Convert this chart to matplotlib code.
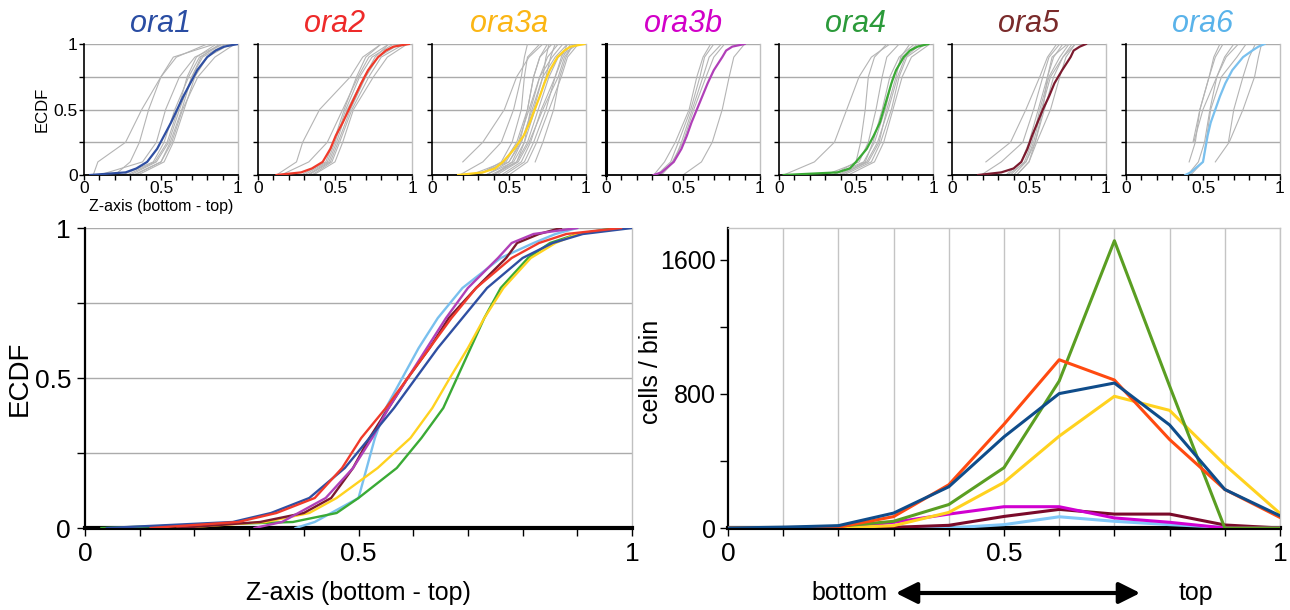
import numpy as np
import matplotlib
matplotlib.use("Agg")
import matplotlib.pyplot as plt
from matplotlib.ticker import FixedLocator

plt.rcParams['font.family'] = ['Liberation Sans', 'DejaVu Sans']

# ---------------- data ----------------
NAMES = ["ora1", "ora2", "ora3a", "ora3b", "ora4", "ora5", "ora6"]
TITLE_COLORS = ["#2a4da3", "#ee2a2a", "#fbb615", "#d200c8", "#2b9a3a", "#7a2b2b", "#5ab3ea"]
LINE_COLORS = ["#2f4fa2", "#f03a2a", "#ffd21f", "#b040b8", "#3aaa35", "#7b1a2e", "#79c0ee"]
HIST_COLORS = ["#0f4c8a", "#ff4a10", "#ffd21f", "#d000d0", "#5a9e22", "#7a0a2a", "#80c8f8"]

# ECDF of pooled cells: x position reached at each cumulative level
ECDF_LEVELS = [0, 0.02, 0.05, 0.1, 0.2, 0.3, 0.4, 0.5, 0.6, 0.7, 0.8, 0.9, 0.95, 0.98, 1.0]
ora1_ecdf = [0.04, 0.27, 0.34, 0.41, 0.475, 0.52, 0.565, 0.605, 0.645, 0.69, 0.735, 0.80, 0.855, 0.91, 1.0]
ora2_ecdf = [0.12, 0.28, 0.35, 0.42, 0.47, 0.505, 0.55, 0.59, 0.63, 0.67, 0.715, 0.78, 0.83, 0.88, 0.98]
ora3a_ecdf = [0.17, 0.33, 0.41, 0.46, 0.535, 0.595, 0.635, 0.667, 0.70, 0.73, 0.765, 0.815, 0.86, 0.90, 0.99]
ora3b_ecdf = [0.31, 0.36, 0.39, 0.44, 0.49, 0.525, 0.555, 0.59, 0.625, 0.66, 0.70, 0.755, 0.78, 0.82, 0.90]
ora4_ecdf = [0.03, 0.38, 0.46, 0.50, 0.57, 0.615, 0.655, 0.68, 0.705, 0.73, 0.76, 0.81, 0.85, 0.90, 0.97]
ora5_ecdf = [0.17, 0.32, 0.40, 0.45, 0.49, 0.52, 0.555, 0.59, 0.63, 0.665, 0.715, 0.77, 0.79, 0.83, 0.87]
ora6_ecdf = [0.385, 0.42, 0.45, 0.50, 0.515, 0.53, 0.55, 0.58, 0.61, 0.645, 0.69, 0.76, 0.82, 0.86, 0.90]
ECDFS = [ora1_ecdf, ora2_ecdf, ora3a_ecdf, ora3b_ecdf, ora4_ecdf, ora5_ecdf, ora6_ecdf]

# Individual-sample ECDFs (gray), x at each level (nan = curve starts higher)
GRAY_LEVELS = [0, 0.1, 0.25, 0.5, 0.75, 0.9, 1.0]
nan = np.nan
ora1_gray = [
    [0.06, 0.09, 0.27, 0.375, 0.50, 0.58, 0.85],
    [0.20, 0.30, 0.36, 0.42, 0.50, 0.60, 0.80],
    [0.10, 0.38, 0.47, 0.53, 0.62, 0.72, 0.90],
    [0.25, 0.45, 0.52, 0.59, 0.68, 0.75, 0.90],
    [0.30, 0.47, 0.55, 0.62, 0.70, 0.77, 0.92],
    [0.32, 0.50, 0.56, 0.635, 0.70, 0.76, 0.88],
    [0.35, 0.52, 0.58, 0.65, 0.72, 0.80, 0.95],
    [0.33, 0.50, 0.57, 0.64, 0.74, 0.85, 0.98],
    [0.28, 0.46, 0.54, 0.61, 0.67, 0.73, 0.86],
]
ora2_gray = [
    [0.12, 0.25, 0.29, 0.40, 0.60, 0.68, 0.80],
    [0.15, 0.33, 0.45, 0.55, 0.65, 0.72, 0.85],
    [0.30, 0.45, 0.50, 0.57, 0.66, 0.74, 0.88],
    [0.33, 0.47, 0.52, 0.60, 0.70, 0.78, 0.92],
    [0.35, 0.48, 0.53, 0.61, 0.72, 0.80, 0.95],
    [0.32, 0.46, 0.51, 0.58, 0.69, 0.76, 0.85],
    [0.28, 0.44, 0.49, 0.56, 0.64, 0.70, 0.80],
    [0.36, 0.50, 0.55, 0.62, 0.75, 0.84, 0.97],
]
ora3a_gray = [
    [nan, 0.20, 0.33, 0.47, 0.55, 0.63, 0.72],
    [0.18, 0.33, 0.45, 0.53, 0.58, 0.60, 0.62],
    [nan, 0.67, 0.72, 0.79, 0.83, 0.87, 0.92],
    [0.30, 0.45, 0.52, 0.58, 0.60, 0.62, 0.70],
    [0.35, 0.50, 0.57, 0.62, 0.66, 0.70, 0.75],
    [0.30, 0.48, 0.56, 0.63, 0.70, 0.78, 0.85],
    [0.40, 0.52, 0.58, 0.65, 0.72, 0.80, 0.88],
    [0.38, 0.55, 0.62, 0.69, 0.76, 0.82, 0.95],
    [0.45, 0.58, 0.64, 0.71, 0.80, 0.85, 0.90],
    [0.42, 0.56, 0.63, 0.72, 0.82, 0.86, 0.92],
    [0.35, 0.53, 0.60, 0.67, 0.74, 0.77, 0.80],
    [0.47, 0.60, 0.66, 0.74, 0.80, 0.84, 0.88],
    [0.25, 0.47, 0.55, 0.62, 0.66, 0.70, 0.78],
    [0.40, 0.55, 0.60, 0.64, 0.70, 0.75, 0.82],
    [0.50, 0.62, 0.68, 0.76, 0.84, 0.88, 0.95],
    [0.28, 0.50, 0.58, 0.66, 0.72, 0.74, 0.76],
]
ora3b_gray = [
    [0.31, 0.38, 0.45, 0.54, 0.59, 0.63, 0.68],
    [0.33, 0.42, 0.47, 0.55, 0.61, 0.64, 0.70],
    [0.36, 0.44, 0.49, 0.56, 0.63, 0.67, 0.75],
    [0.35, 0.43, 0.50, 0.57, 0.65, 0.70, 0.77],
    [0.50, 0.62, 0.69, 0.755, 0.80, 0.83, 0.90],
]
ora4_gray = [
    [0.03, 0.23, 0.36, 0.44, 0.52, 0.60, 0.72],
    [0.35, 0.50, 0.53, 0.56, 0.58, 0.62, 0.70],
    [0.30, 0.52, 0.58, 0.63, 0.67, 0.70, 0.78],
    [0.35, 0.55, 0.62, 0.69, 0.74, 0.80, 0.90],
    [0.40, 0.57, 0.64, 0.71, 0.77, 0.82, 0.92],
    [0.42, 0.60, 0.66, 0.73, 0.78, 0.83, 0.95],
    [0.45, 0.62, 0.68, 0.74, 0.80, 0.86, 0.98],
    [0.38, 0.56, 0.61, 0.67, 0.72, 0.78, 0.88],
    [0.40, 0.58, 0.65, 0.70, 0.76, 0.79, 0.85],
]
ora5_gray = [
    [nan, 0.22, 0.38, 0.48, 0.57, 0.62, 0.68],
    [0.19, 0.32, 0.46, 0.53, 0.59, 0.63, 0.70],
    [0.35, 0.45, 0.50, 0.56, 0.62, 0.66, 0.72],
    [0.38, 0.47, 0.52, 0.57, 0.63, 0.70, 0.76],
    [0.40, 0.48, 0.53, 0.58, 0.64, 0.72, 0.80],
    [0.42, 0.50, 0.54, 0.60, 0.66, 0.72, 0.78],
    [0.42, 0.50, 0.55, 0.64, 0.70, 0.74, 0.80],
    [0.36, 0.48, 0.54, 0.59, 0.62, 0.65, 0.75],
]
ora6_gray = [
    [nan, 0.41, 0.45, 0.48, 0.54, 0.58, 0.63],
    [nan, nan, 0.435, 0.48, 0.54, 0.57, 0.61],
    [nan, 0.58, 0.67, 0.76, 0.835, 0.86, 0.88],
    [nan, nan, 0.665, 0.70, 0.76, 0.80, 0.84],
    [0.40, 0.47, 0.51, 0.545, 0.59, 0.64, 0.70],
    [0.42, 0.50, 0.52, 0.55, 0.62, 0.72, 0.78],
    [nan, nan, 0.44, 0.50, 0.59, 0.65, 0.73],
]
GRAYS = [ora1_gray, ora2_gray, ora3a_gray, ora3b_gray, ora4_gray, ora5_gray, ora6_gray]

# Histogram: cells per bin
BIN_X = [0.0, 0.1, 0.2, 0.3, 0.4, 0.5, 0.6, 0.7, 0.8, 0.9, 1.0]
ora1_hist = [0, 5, 14, 89, 246, 544, 802, 865, 615, 230, 73]
ora2_hist = [0, 0, 5, 68, 258, 619, 1004, 883, 528, 230, 63]
ora3a_hist = [0, 0, 0, 14, 93, 272, 548, 786, 702, 377, 87]
ora3b_hist = [0, 0, 0, 34, 83, 127, 127, 60, 34, 0, 0]
ora4_hist = [0, 0, 10, 40, 140, 360, 877, 1714, 847, 0, 0]
ora5_hist = [0, 0, 0, 4, 16, 69, 111, 83, 83, 18, 0]
ora6_hist = [0, 0, 0, 0, 0, 20, 67, 40, 20, 4, 0]
HISTS = [ora1_hist, ora2_hist, ora3a_hist, ora3b_hist, ora4_hist, ora5_hist, ora6_hist]

# ---------------- figure ----------------
W, H = 1290, 610
fig = plt.figure(figsize=(W / 100, H / 100), dpi=100)


def px_axes(x0, y0, x1, y1):
    return fig.add_axes([x0 / W, 1 - y1 / H, (x1 - x0) / W, (y1 - y0) / H])


GRID_C = "#ababab"


def style_ecdf(ax, tick_len, label_size, show_ylabels, bottom_lw, left_lw):
    ax.set_xlim(0, 1)
    ax.set_ylim(0, 1)
    for y in (0.25, 0.5, 0.75, 1.0):
        ax.axhline(y, color=GRID_C, lw=1.0, zorder=0)
    ax.spines['top'].set_visible(False)
    ax.spines['right'].set_color("#c0c0c0")
    ax.spines['right'].set_linewidth(1.0)
    ax.spines['left'].set_linewidth(left_lw)
    ax.spines['bottom'].set_linewidth(bottom_lw)
    ax.xaxis.set_major_locator(FixedLocator([0, 0.5, 1]))
    ax.xaxis.set_minor_locator(FixedLocator([0.1, 0.2, 0.3, 0.4, 0.6, 0.7, 0.8, 0.9]))
    ax.set_xticklabels(["0", "0.5", "1"])
    ax.yaxis.set_major_locator(FixedLocator([0, 0.25, 0.5, 0.75, 1]))
    if show_ylabels:
        ax.set_yticklabels(["0", "", "0.5", "", "1"])
    else:
        ax.set_yticklabels([])
    ax.tick_params(axis='both', which='both', direction='out', length=tick_len,
                   width=1.0, labelsize=label_size, pad=1)


# Small panels
lefts = [84, 258, 432, 606, 779, 952, 1126]
for i, name in enumerate(NAMES):
    ax = px_axes(lefts[i], 44, lefts[i] + 154, 175)
    style_ecdf(ax, 3.5, 12.5, i == 0, 1.3, 2.2 if i == 3 else 1.2)
    for g in GRAYS[i]:
        ax.plot(g, GRAY_LEVELS, color="#b4b4b4", lw=0.8, zorder=2)
    ax.plot(ECDFS[i], ECDF_LEVELS, color=LINE_COLORS[i], lw=1.6, zorder=3)
    ax.set_title(name, color=TITLE_COLORS[i], fontsize=22, style='italic', pad=9)
    if i == 0:
        ax.set_ylabel("ECDF", fontsize=12)
        ax.yaxis.set_label_coords((42 - 84) / 154, 0.5)
        ax.yaxis.label.set_va('center')
        ax.set_xlabel("Z-axis (bottom - top)", fontsize=11.5)
        ax.xaxis.set_label_coords((161 - 84) / 154, -(206 - 175) / 131)
        ax.xaxis.label.set_va('center')

# Main ECDF
axm = px_axes(85, 228, 632, 528)
style_ecdf(axm, 6, 19, True, 3.0, 1.6)
axm.tick_params(axis='both', which='both', pad=4)
order = [6, 4, 2, 5, 3, 0, 1]
for i in order:
    axm.plot(ECDFS[i], ECDF_LEVELS, color=LINE_COLORS[i], lw=1.7, zorder=3)
axm.set_ylabel("ECDF", fontsize=20)
axm.yaxis.set_label_coords((20 - 85) / 547, 0.5)
axm.yaxis.label.set_va('center')
axm.set_xlabel("Z-axis (bottom - top)", fontsize=18)
axm.xaxis.set_label_coords(0.5, -(593 - 528) / 300)
axm.xaxis.label.set_va('center')

# Histogram
axh = px_axes(728, 228, 1280, 528)
axh.set_xlim(0, 1)
axh.set_ylim(0, 1790)
for x in BIN_X[1:]:
    axh.axvline(x, color="#c4c4c4", lw=1.0, zorder=0)
axh.spines['top'].set_color("#c4c4c4")
axh.spines['top'].set_linewidth(1.0)
axh.spines['right'].set_color("#c4c4c4")
axh.spines['right'].set_linewidth(1.0)
axh.spines['left'].set_linewidth(1.6)
axh.spines['bottom'].set_linewidth(3.0)
axh.xaxis.set_major_locator(FixedLocator([0, 0.5, 1]))
axh.xaxis.set_minor_locator(FixedLocator([0.1, 0.2, 0.3, 0.4, 0.6, 0.7, 0.8, 0.9]))
axh.set_xticklabels(["0", "0.5", "1"])
axh.yaxis.set_major_locator(FixedLocator([0, 400, 800, 1200, 1600]))
axh.set_yticklabels(["0", "", "800", "", "1600"])
axh.tick_params(axis='both', which='both', direction='out', length=6, width=1.0,
                labelsize=19, pad=4)
axh.tick_params(axis='y', labelsize=18, pad=3)
axh.set_ylabel("cells / bin", fontsize=18)
axh.yaxis.set_label_coords((651 - 728) / 552, 0.52)
axh.yaxis.label.set_va('center')
horder = [6, 5, 3, 2, 4, 1, 0]
for i in horder:
    axh.plot(BIN_X, HISTS[i], color=HIST_COLORS[i], lw=2.2, zorder=3)

# bottom <-> top arrow
fig.text(850 / W, 1 - 593 / H, "bottom", fontsize=18, ha='center', va='center')
fig.text(1196 / W, 1 - 593 / H, "top", fontsize=18, ha='center', va='center')
fig.add_artist(matplotlib.patches.FancyArrowPatch(
    (893 / W, 1 - 593 / H), (1143 / W, 1 - 593 / H), transform=fig.transFigure,
    arrowstyle='<|-|>', mutation_scale=32, lw=3, color='black'))

fig.savefig("out.png", dpi=100)
